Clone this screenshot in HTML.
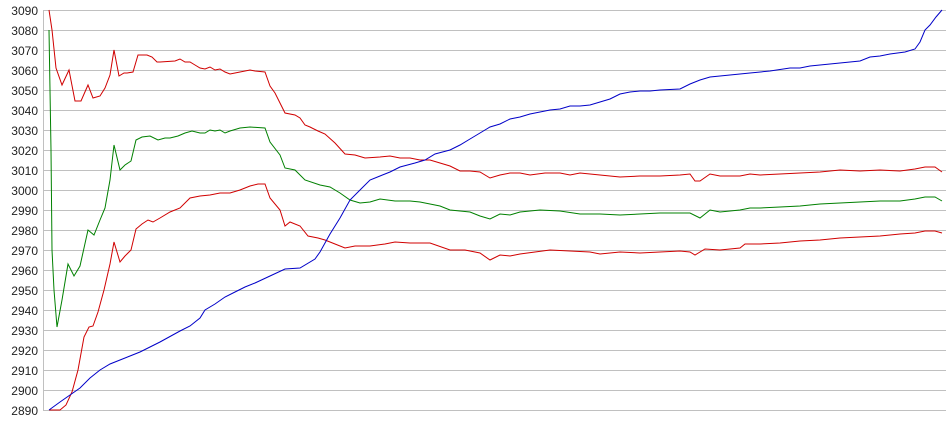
<!DOCTYPE html>
<html><head><style>body{margin:0;background:#fff}svg{display:block}text{font-family:"Liberation Sans",sans-serif;font-size:12px;fill:#222}</style></head><body>
<svg width="950" height="435" xmlns="http://www.w3.org/2000/svg">
<g stroke="#c0c0c0" stroke-width="1" shape-rendering="crispEdges">
<line x1="43.5" y1="10" x2="43.5" y2="411"/>
<line x1="43" x2="946" y1="10.5" y2="10.5"/><line x1="43" x2="946" y1="30.5" y2="30.5"/><line x1="43" x2="946" y1="50.5" y2="50.5"/><line x1="43" x2="946" y1="70.5" y2="70.5"/><line x1="43" x2="946" y1="90.5" y2="90.5"/><line x1="43" x2="946" y1="110.5" y2="110.5"/><line x1="43" x2="946" y1="130.5" y2="130.5"/><line x1="43" x2="946" y1="150.5" y2="150.5"/><line x1="43" x2="946" y1="170.5" y2="170.5"/><line x1="43" x2="946" y1="190.5" y2="190.5"/><line x1="43" x2="946" y1="210.5" y2="210.5"/><line x1="43" x2="946" y1="230.5" y2="230.5"/><line x1="43" x2="946" y1="250.5" y2="250.5"/><line x1="43" x2="946" y1="270.5" y2="270.5"/><line x1="43" x2="946" y1="290.5" y2="290.5"/><line x1="43" x2="946" y1="310.5" y2="310.5"/><line x1="43" x2="946" y1="330.5" y2="330.5"/><line x1="43" x2="946" y1="350.5" y2="350.5"/><line x1="43" x2="946" y1="370.5" y2="370.5"/><line x1="43" x2="946" y1="390.5" y2="390.5"/><line x1="43" x2="946" y1="410.5" y2="410.5"/>
</g>
<g text-anchor="end">
<text x="38" y="15">3090</text><text x="38" y="35">3080</text><text x="38" y="55">3070</text><text x="38" y="75">3060</text><text x="38" y="95">3050</text><text x="38" y="115">3040</text><text x="38" y="135">3030</text><text x="38" y="155">3020</text><text x="38" y="175">3010</text><text x="38" y="195">3000</text><text x="38" y="215">2990</text><text x="38" y="235">2980</text><text x="38" y="255">2970</text><text x="38" y="275">2960</text><text x="38" y="295">2950</text><text x="38" y="315">2940</text><text x="38" y="335">2930</text><text x="38" y="355">2920</text><text x="38" y="375">2910</text><text x="38" y="395">2900</text><text x="38" y="415">2890</text>
</g>
<g fill="none" stroke-width="1">
<polyline stroke="#d00000" points="49,10 52,30 56,68 62,85 69,70 75,101 81,101 88,85 93,98 100,96 105,88 110,75 114,50 119,76 124,73 127,73 133,72 138,55 147,55 152,57 157,62 160,62 175,61 180,59 185,62 190,62 195,65 200,68 205,69 210,67 215,70 220,69 225,72 230,74 235,73 240,72 250,70 255,71 265,72 270,86 275,93 285,113 295,115 300,118 305,125 310,127 318,131 325,134 335,143 345,154 355,155 365,158 380,157 390,156 400,158 410,158 420,160 430,160 440,163 450,166 460,171 470,171 480,172 490,178 500,175 510,173 520,173 530,175 545,173 560,173 570,175 580,173 600,175 620,177 640,176 660,176 680,175 690,174 695,181 700,181 710,174 720,176 740,176 750,174 760,175 780,174 800,173 820,172 840,170 860,171 880,170 900,171 915,169 925,167 935,167 942,172"/>
<polyline stroke="#d00000" points="49,410 60,410 66,405 72,392 78,370 84,337 89,327 93,326 98,312 104,290 110,264 114,242 120,262 125,256 131,250 136,229 142,224 148,220 153,222 160,218 170,212 180,208 190,198 200,196 210,195 220,193 230,193 240,190 250,186 258,184 265,184 270,198 280,210 285,226 290,222 300,226 308,236 318,238 325,240 335,244 345,248 355,246 370,246 385,244 395,242 410,243 430,243 450,250 465,250 480,253 490,260 500,255 510,256 520,254 535,252 550,250 570,251 590,252 600,254 620,252 640,253 660,252 680,251 690,252 695,255 705,249 720,250 740,248 745,244 760,244 780,243 800,241 820,240 840,238 860,237 880,236 900,234 915,233 925,231 935,231 942,233"/>
<polyline stroke="#008000" points="49,30 50,90 51,150 52,250 54,290 57,327 62,300 68,264 74,276 80,266 88,230 94,235 100,220 105,208 110,180 114,145 120,170 125,165 131,161 136,140 142,137 150,136 158,140 165,138 170,138 178,136 185,133 192,131 200,133 205,133 210,130 215,131 220,130 225,133 230,131 240,128 250,127 265,128 270,142 280,155 285,168 295,170 305,180 320,185 330,187 340,193 350,200 360,203 370,202 380,199 395,201 410,201 420,202 430,204 440,206 450,210 470,212 480,216 490,219 500,214 510,215 520,212 540,210 560,211 580,214 600,214 620,215 640,214 660,213 680,213 690,213 700,218 710,210 720,212 740,210 750,208 760,208 780,207 800,206 820,204 840,203 860,202 880,201 900,201 915,199 925,197 935,197 942,201"/>
<polyline stroke="#0000c8" points="49,410 60,402 70,395 80,388 90,378 100,370 110,364 120,360 130,356 140,352 150,347 160,342 180,331 190,326 200,318 205,310 215,304 225,297 235,292 245,287 255,283 270,276 285,269 300,268 315,259 320,252 330,234 340,218 350,200 360,190 370,180 380,176 390,172 400,167 415,163 425,160 435,154 450,150 460,145 470,139 480,133 490,127 500,124 510,119 520,117 530,114 540,112 550,110 560,109 570,106 580,106 590,105 600,102 610,99 620,94 630,92 640,91 650,91 660,90 680,89 690,84 700,80 710,77 720,76 740,74 750,73 770,71 790,68 800,68 810,66 830,64 840,63 850,62 860,61 870,57 880,56 890,54 905,52 915,49 920,42 925,30 930,25 936,17 942,10"/>
</g>
</svg>
</body></html>
